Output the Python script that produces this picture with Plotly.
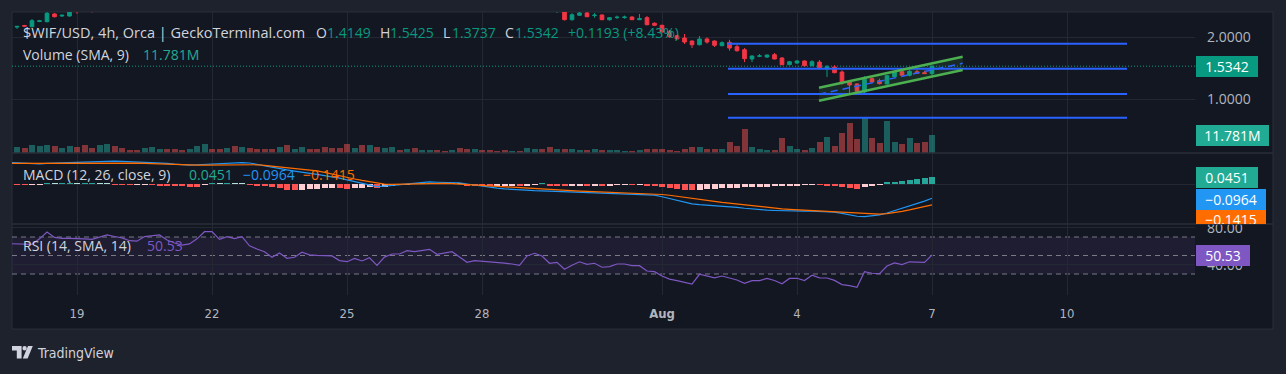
import plotly.graph_objects as go
import pandas as pd

# ---------------- data ----------------
candle_start = '2024-07-17 16:00'      # first 4h candle
indicator_start = '2024-07-17 12:00'   # indicators start one bar earlier

opens = [
    2.165, 2.19, 2.171, 2.255, 2.252, 2.376, 2.343, 2.343, 2.52, 2.47,
    2.46, 2.43, 2.55, 2.66, 2.60, 2.56, 2.53, 2.50, 2.56, 2.62,
    2.66, 2.63, 2.60, 2.58, 2.63, 2.72, 2.85, 2.80, 2.76, 2.80,
    2.72, 2.76, 2.70, 2.66, 2.63, 2.60, 2.66, 2.58, 2.62, 2.66,
    2.62, 2.60, 2.56, 2.53, 2.50, 2.45, 2.50, 2.47, 2.55, 2.51,
    2.56, 2.60, 2.57, 2.60, 2.57, 2.59, 2.62, 2.60, 2.58, 2.61,
    2.57, 2.54, 2.57, 2.55, 2.53, 2.51, 2.49, 2.51, 2.48, 2.52,
    2.54, 2.50, 2.47, 2.47, 2.284, 2.355, 2.392, 2.35, 2.36, 2.284,
    2.318, 2.318, 2.327, 2.284, 2.316, 2.226, 2.194, 2.097, 2.026, 1.989,
    1.94, 1.88, 1.973, 1.94, 1.865, 1.919, 1.848, 1.80, 1.65, 1.695,
    1.682, 1.72, 1.666, 1.558, 1.585, 1.618, 1.542, 1.60, 1.494, 1.521,
    1.44, 1.29, 1.247, 1.118, 1.332, 1.30, 1.247, 1.365, 1.445, 1.387,
    1.445, 1.429, 1.4149]
highs = [
    2.18, 2.20, 2.295, 2.28, 2.42, 2.39, 2.37, 2.48, 2.56, 2.50,
    2.49, 2.58, 2.70, 2.69, 2.63, 2.59, 2.56, 2.58, 2.64, 2.69,
    2.68, 2.65, 2.62, 2.66, 2.75, 2.90, 2.88, 2.83, 2.84, 2.82,
    2.79, 2.78, 2.72, 2.68, 2.65, 2.69, 2.68, 2.64, 2.69, 2.68,
    2.64, 2.62, 2.58, 2.55, 2.52, 2.52, 2.52, 2.57, 2.57, 2.58,
    2.63, 2.62, 2.62, 2.61, 2.61, 2.64, 2.63, 2.61, 2.63, 2.62,
    2.58, 2.59, 2.58, 2.56, 2.54, 2.52, 2.53, 2.52, 2.54, 2.56,
    2.55, 2.51, 2.51, 2.49, 2.39, 2.41, 2.42, 2.39, 2.37, 2.327,
    2.35, 2.35, 2.34, 2.376, 2.343, 2.24, 2.20, 2.118, 2.04, 2.053,
    1.95, 2.021, 2.0, 1.95, 1.935, 1.961, 1.88, 1.827, 1.71, 1.73,
    1.72, 1.747, 1.682, 1.618, 1.63, 1.625, 1.63, 1.634, 1.553, 1.55,
    1.468, 1.311, 1.26, 1.371, 1.381, 1.332, 1.39, 1.45, 1.46, 1.47,
    1.477, 1.46, 1.5425]
lows = [
    2.134, 2.17, 2.16, 2.245, 2.24, 2.32, 2.33, 2.335, 2.38, 2.43,
    2.40, 2.42, 2.53, 2.58, 2.54, 2.51, 2.48, 2.48, 2.54, 2.60,
    2.60, 2.57, 2.55, 2.56, 2.61, 2.70, 2.77, 2.73, 2.74, 2.70,
    2.70, 2.67, 2.63, 2.60, 2.57, 2.58, 2.55, 2.56, 2.60, 2.60,
    2.58, 2.54, 2.51, 2.48, 2.43, 2.44, 2.45, 2.46, 2.49, 2.50,
    2.55, 2.55, 2.56, 2.55, 2.56, 2.58, 2.58, 2.56, 2.57, 2.55,
    2.52, 2.53, 2.53, 2.51, 2.49, 2.47, 2.48, 2.46, 2.47, 2.51,
    2.49, 2.45, 2.395, 2.27, 2.27, 2.35, 2.325, 2.316, 2.278, 2.268,
    2.295, 2.30, 2.278, 2.28, 2.194, 2.18, 2.07, 1.99, 1.96, 1.892,
    1.827, 1.87, 1.897, 1.844, 1.855, 1.784, 1.768, 1.60, 1.60, 1.68,
    1.666, 1.645, 1.55, 1.55, 1.57, 1.53, 1.53, 1.484, 1.36, 1.42,
    1.235, 1.09, 1.11, 1.10, 1.27, 1.24, 1.24, 1.355, 1.38, 1.37,
    1.415, 1.41, 1.3737]
closes = [
    2.176, 2.18, 2.268, 2.266, 2.387, 2.332, 2.355, 2.45, 2.47, 2.44,
    2.43, 2.55, 2.66, 2.60, 2.56, 2.53, 2.50, 2.56, 2.62, 2.66,
    2.63, 2.60, 2.58, 2.63, 2.72, 2.85, 2.80, 2.76, 2.80, 2.72,
    2.76, 2.70, 2.66, 2.63, 2.60, 2.66, 2.58, 2.62, 2.66, 2.62,
    2.60, 2.56, 2.53, 2.50, 2.45, 2.50, 2.47, 2.55, 2.51, 2.56,
    2.60, 2.57, 2.60, 2.57, 2.59, 2.62, 2.60, 2.58, 2.61, 2.57,
    2.54, 2.57, 2.55, 2.53, 2.51, 2.49, 2.51, 2.48, 2.52, 2.54,
    2.50, 2.47, 2.49, 2.285, 2.364, 2.392, 2.332, 2.357, 2.284, 2.316,
    2.324, 2.326, 2.284, 2.30, 2.203, 2.194, 2.085, 2.01, 1.973, 1.924,
    1.88, 1.973, 1.924, 1.871, 1.913, 1.827, 1.784, 1.655, 1.698, 1.70,
    1.714, 1.65, 1.558, 1.606, 1.618, 1.542, 1.606, 1.505, 1.526, 1.429,
    1.263, 1.231, 1.129, 1.323, 1.279, 1.252, 1.381, 1.44, 1.387, 1.452,
    1.42, 1.4149, 1.5342]
volume_m = [
    3.9, 3.3, 5.2, 4.6, 5.2, 4.6, 3.3, 4.6, 3.9, 5.2,
    3.3, 5.2, 5.9, 4.6, 3.3, 2.0, 2.0, 3.3, 3.9, 2.6,
    2.6, 2.6, 2.0, 2.6, 4.6, 5.9, 2.6, 2.6, 3.3, 4.6,
    3.9, 3.3, 2.6, 2.6, 2.6, 3.9, 5.2, 2.6, 3.9, 2.6,
    2.6, 3.9, 3.3, 3.3, 5.9, 3.3, 5.2, 5.2, 3.9, 3.3,
    3.9, 2.0, 2.6, 3.3, 2.0, 2.0, 2.0, 1.3, 2.0, 3.3,
    2.6, 2.6, 2.0, 2.0, 1.3, 2.0, 1.3, 1.3, 3.3, 2.6,
    2.6, 3.9, 2.6, 2.6, 2.6, 2.0, 2.0, 2.6, 2.0, 2.0,
    2.0, 1.3, 1.3, 2.0, 2.6, 2.6, 2.6, 2.0, 1.3, 2.6,
    3.9, 3.9, 2.6, 2.6, 2.6, 7.2, 4.6, 15.7, 3.9, 2.6,
    2.0, 2.0, 9.8, 4.6, 2.6, 2.0, 3.3, 7.2, 10.5, 4.6,
    13.1, 19.6, 9.2, 22.9, 9.8, 6.5, 21.0, 7.2, 5.9, 9.8,
    6.5, 7.2, 11.781]
macd_hist = [
    -0.003, -0.004, -0.003, -0.002, 0.002, 0.001, 0.002, 0.003, 0.002, 0.004,
    0.005, 0.004, 0.003, -0.001, -0.003, -0.005, -0.004, -0.003, -0.005, -0.007,
    -0.008, -0.010, -0.012, -0.018, -0.020, -0.006, 0.003, 0.002, 0.004, 0.003,
    0.002, -0.004, -0.009, -0.016, -0.022, -0.030, -0.040, -0.042, -0.040, -0.037,
    -0.033, -0.030, -0.028, -0.030, -0.032, -0.028, -0.024, -0.022, -0.027, -0.020,
    -0.012, -0.006, -0.003, 0.001, 0.003, 0.004, 0.003, 0.004, 0.003, 0.001,
    -0.008, -0.012, -0.013, -0.014, -0.012, -0.011, -0.010, -0.012, -0.008, -0.003,
    0.002, -0.007, -0.008, -0.010, -0.009, -0.007, -0.008, -0.007, -0.009, -0.008,
    -0.006, -0.005, -0.006, -0.004, -0.009, -0.012, -0.020, -0.028, -0.035, -0.040,
    -0.043, -0.038, -0.035, -0.032, -0.028, -0.026, -0.025, -0.023, -0.021, -0.019,
    -0.017, -0.014, -0.012, -0.010, -0.008, -0.006, -0.004, -0.005, -0.007, -0.013,
    -0.020, -0.026, -0.031, -0.022, -0.013, -0.006, 0.008, 0.016, 0.022, 0.030,
    0.036, 0.041, 0.0451]
macd_line = [
    0.145, 0.142, 0.138, 0.135, 0.136, 0.139, 0.141, 0.143, 0.145, 0.148,
    0.151, 0.153, 0.155, 0.156, 0.155, 0.153, 0.151, 0.150, 0.149, 0.148,
    0.144, 0.139, 0.134, 0.130, 0.128, 0.130, 0.133, 0.135, 0.138, 0.140,
    0.142, 0.144, 0.142, 0.132, 0.121, 0.112, 0.104, 0.095, 0.087, 0.081,
    0.073, 0.065, 0.057, 0.050, 0.040, 0.028, 0.017, 0.006, -0.006, -0.018,
    -0.014, -0.010, -0.007, -0.002, 0.004, 0.010, 0.014, 0.012, 0.011, 0.010,
    0.008, 0.000, -0.008, -0.016, -0.022, -0.028, -0.033, -0.037, -0.041, -0.043,
    -0.045, -0.046, -0.048, -0.049, -0.051, -0.052, -0.054, -0.056, -0.059, -0.061,
    -0.062, -0.064, -0.066, -0.068, -0.070, -0.073, -0.075, -0.086, -0.098, -0.111,
    -0.124, -0.134, -0.140, -0.143, -0.147, -0.150, -0.153, -0.158, -0.164, -0.170,
    -0.174, -0.177, -0.179, -0.181, -0.182, -0.182, -0.183, -0.184, -0.185, -0.186,
    -0.190, -0.198, -0.208, -0.218, -0.220, -0.215, -0.209, -0.196, -0.180, -0.166,
    -0.150, -0.133, -0.116, -0.0964]
signal_line = [
    0.140, 0.140, 0.140, 0.141, 0.141, 0.142, 0.142, 0.143, 0.143, 0.144,
    0.144, 0.144, 0.144, 0.145, 0.145, 0.144, 0.143, 0.141, 0.139, 0.137,
    0.135, 0.133, 0.131, 0.130, 0.129, 0.128, 0.128, 0.129, 0.130, 0.131,
    0.132, 0.133, 0.133, 0.130, 0.126, 0.121, 0.116, 0.111, 0.107, 0.104,
    0.098, 0.089, 0.078, 0.066, 0.055, 0.044, 0.034, 0.024, 0.014, 0.005,
    -0.001, -0.002, -0.001, 0.001, 0.003, 0.004, 0.005, 0.005, 0.004, 0.002,
    -0.001, -0.004, -0.007, -0.010, -0.013, -0.017, -0.021, -0.025, -0.029, -0.032,
    -0.035, -0.038, -0.040, -0.042, -0.044, -0.046, -0.048, -0.050, -0.052, -0.054,
    -0.055, -0.057, -0.059, -0.061, -0.062, -0.064, -0.067, -0.071, -0.076, -0.082,
    -0.089, -0.096, -0.103, -0.110, -0.117, -0.124, -0.130, -0.136, -0.142, -0.148,
    -0.154, -0.159, -0.164, -0.168, -0.171, -0.174, -0.176, -0.178, -0.180, -0.182,
    -0.184, -0.187, -0.190, -0.194, -0.199, -0.202, -0.203, -0.200, -0.194, -0.185,
    -0.175, -0.164, -0.153, -0.1415]
rsi = [
    62.8, 62.6, 62.3, 62.1, 68.0, 75.4, 69.5, 68.6, 68.6, 68.6,
    68.0, 67.5, 69.5, 72.2, 70.5, 69.0, 66.0, 65.5, 70.5, 71.5,
    72.2, 66.8, 63.5, 61.2, 62.5, 68.0, 75.7, 75.7, 67.5, 70.3,
    68.2, 70.3, 60.5, 57.0, 54.0, 48.1, 52.8, 47.0, 48.1, 53.5,
    50.7, 50.1, 49.8, 49.5, 44.5, 43.3, 46.8, 44.1, 47.6, 39.4,
    48.3, 51.6, 51.6, 55.2, 54.1, 55.5, 56.7, 51.3, 52.7, 54.1,
    48.5, 42.6, 44.4, 43.9, 43.2, 42.6, 41.7, 40.8, 39.4, 49.5,
    52.4, 49.5, 41.6, 42.6, 35.1, 39.5, 43.2, 40.5, 41.6, 37.3,
    37.9, 40.8, 40.8, 39.0, 39.0, 33.2, 32.5, 27.8, 24.5, 22.8,
    20.8, 19.1, 29.7, 27.8, 25.9, 27.8, 25.6, 23.5, 19.9, 22.8,
    22.8, 25.3, 23.0, 19.4, 25.2, 25.4, 23.0, 28.7, 25.8, 25.7,
    23.1, 18.6, 17.5, 15.6, 32.5, 30.8, 30.3, 38.6, 42.0, 40.2,
    43.2, 43.0, 42.6, 50.53]

# drawings (price levels and parallel channel)
level_prices = [1.897, 1.4935, 1.0855, 0.703]
level_span = ['2024-08-02 11:12', '2024-08-11 08:00']
channel_t = ['2024-08-04 11:44', '2024-08-07 16:22']
channel_upper = [1.187, 1.687]
channel_lower = [0.977, 1.4726]
channel_mid = [1.082, 1.580]

# time axis
day_ticks = ['2024-07-19', '2024-07-22', '2024-07-25', '2024-07-28',
             '2024-08-01', '2024-08-04', '2024-08-07', '2024-08-10']
day_labels = ['19', '22', '25', '28', '<b>Aug</b>', '4', '7', '10']
x_range = ['2024-07-17 13:20', '2024-08-12 20:16']

# ---------------- layout helpers ----------------
W, H = 1286, 374
PL, PR, PT, PB = 12, 1195, 12, 295


def px(x):
    return (x - PL) / (PR - PL)


def py(y):
    return (PB - y) / (PB - PT)


OUTER = '#1e222d'
INNER = '#131722'
GRID = '#242833'
BORDER = '#2a2e39'
TXT = '#d1d4dc'
AX = '#b2b5be'
UP = '#089981'
DOWN = '#f23645'
UP2 = '#22ab94'
FONT = '"Open Sans", "Noto Sans", sans-serif'
NARROW = '"Liberation Sans Narrow", "DejaVu Sans Condensed", sans-serif'

times = pd.date_range(candle_start, periods=len(closes), freq='4h')
itimes = pd.date_range(indicator_start, periods=len(rsi), freq='4h')
bar_w = 4 * 3600 * 1000 * 0.8

vol_colors = ['rgba(38,166,154,0.5)' if c >= o else 'rgba(239,83,80,0.5)'
              for o, c in zip(opens, closes)]
hist_colors = []
prev = None
for v in macd_hist:
    if v >= 0:
        hist_colors.append('#26a69a' if (prev is None or v > prev) else '#b2dfdb')
    else:
        hist_colors.append('#ffcdd2' if (prev is not None and v > prev) else '#ff5252')
    prev = v

fig = go.Figure()

# channel fill
fig.add_trace(go.Scatter(
    x=[channel_t[0], channel_t[1], channel_t[1], channel_t[0], channel_t[0]],
    y=[channel_upper[0], channel_upper[1], channel_lower[1], channel_lower[0], channel_upper[0]],
    fill='toself', fillcolor='rgba(76,175,80,0.13)', mode='lines',
    line=dict(width=0), hoverinfo='skip', xaxis='x', yaxis='y'))

# candles
fig.add_trace(go.Candlestick(
    x=times, open=opens, high=highs, low=lows, close=closes,
    increasing=dict(line=dict(color=UP, width=1), fillcolor=UP),
    decreasing=dict(line=dict(color=DOWN, width=1), fillcolor=DOWN),
    whiskerwidth=0, hoverinfo='skip', xaxis='x', yaxis='y'))

# volume
fig.add_trace(go.Bar(x=times, y=volume_m, width=bar_w,
                     marker=dict(color=vol_colors, line=dict(width=0)),
                     hoverinfo='skip', xaxis='x', yaxis='y2'))

# MACD
fig.add_trace(go.Bar(x=times, y=macd_hist, width=bar_w,
                     marker=dict(color=hist_colors, line=dict(width=0)),
                     hoverinfo='skip', xaxis='x2', yaxis='y3'))
fig.add_trace(go.Scatter(x=itimes, y=macd_line, mode='lines',
                         line=dict(color='#2196f3', width=1.2),
                         hoverinfo='skip', xaxis='x2', yaxis='y3'))
fig.add_trace(go.Scatter(x=itimes, y=signal_line, mode='lines',
                         line=dict(color='#ff6d00', width=1.2),
                         hoverinfo='skip', xaxis='x2', yaxis='y3'))

# RSI
fig.add_trace(go.Scatter(x=itimes, y=rsi, mode='lines',
                         line=dict(color='#7e57c2', width=1.2),
                         hoverinfo='skip', xaxis='x3', yaxis='y4'))

# ---------------- axes ----------------
xcommon = dict(type='date', range=x_range, showgrid=True, gridcolor=GRID, gridwidth=1,
               tickvals=day_ticks, ticktext=day_labels, zeroline=False,
               showline=False, ticks='', fixedrange=True, automargin=False)
ycommon = dict(showgrid=True, gridcolor=GRID, zeroline=False, showline=False,
               ticks='', side='right', fixedrange=True, automargin=False,
               tickfont=dict(family=FONT, size=14, color=AX), ticklabelstandoff=11)

d_price = [py(153), 1.0]
d_macd = [py(224), py(153)]
d_rsi = [0.0, py(224)]

fig.update_layout(
    width=W, height=H,
    margin=dict(l=PL, r=W - PR, t=PT, b=H - PB, pad=0, autoexpand=False),
    paper_bgcolor=OUTER, plot_bgcolor='rgba(0,0,0,0)',
    showlegend=False, hovermode=False, bargap=0,
    xaxis=dict(xcommon, anchor='y', showticklabels=False,
               rangeslider=dict(visible=False)),
    xaxis2=dict(xcommon, anchor='y3', matches='x', showticklabels=False),
    xaxis3=dict(xcommon, anchor='y4', matches='x', showticklabels=True,
                tickfont=dict(family=NARROW, size=13, color=AX), ticklabelstandoff=9),
    yaxis=dict(ycommon, domain=d_price, anchor='x', range=[0.1339, 2.408],
               tickvals=[1, 2], ticktext=['1.0000', '2.0000']),
    yaxis2=dict(overlaying='y', anchor='x', range=[0, 92.28], visible=False,
                fixedrange=True),
    yaxis3=dict(ycommon, domain=d_macd, anchor='x2', range=[-0.2703, 0.2095],
                tickvals=[0], showticklabels=False),
    yaxis4=dict(ycommon, domain=d_rsi, anchor='x3', range=[7.30, 84.05],
                tickvals=[40, 80], ticktext=['40.00', '80.00']),
)

# ---------------- shapes ----------------
shapes = []
XR = px(1273)
# chart frame
shapes.append(dict(type='rect', xref='paper', yref='paper', x0=0, x1=XR,
                   y0=py(329), y1=1.0, fillcolor=INNER,
                   line=dict(color=BORDER, width=1), layer='below'))
# RSI band and levels
shapes.append(dict(type='rect', xref='paper', yref='y4', x0=0, x1=1, y0=30, y1=70,
                   fillcolor='rgba(126,87,194,0.1)', line=dict(width=0), layer='below'))
for lvl in (70, 50, 30):
    shapes.append(dict(type='line', xref='paper', yref='y4', x0=0, x1=1, y0=lvl, y1=lvl,
                       line=dict(color='#787b86', width=1, dash='5px,4px'), layer='below'))
# pane separators
for yy in (153, 224):
    shapes.append(dict(type='line', xref='paper', yref='paper', x0=0, x1=XR,
                       y0=py(yy), y1=py(yy), line=dict(color=BORDER, width=1.5),
                       layer='above'))
# last price dotted line
shapes.append(dict(type='line', xref='paper', yref='y', x0=0, x1=1,
                   y0=closes[-1], y1=closes[-1],
                   line=dict(color=UP, width=1, dash='1px,2px'), layer='below'))
# horizontal levels
for lv in level_prices:
    shapes.append(dict(type='line', xref='x', yref='y', x0=level_span[0], x1=level_span[1],
                       y0=lv, y1=lv, line=dict(color='#2962ff', width=2), layer='above'))
# channel
for arr in (channel_upper, channel_lower):
    shapes.append(dict(type='line', xref='x', yref='y', x0=channel_t[0], x1=channel_t[1],
                       y0=arr[0], y1=arr[1], line=dict(color='#4caf50', width=2.5),
                       layer='above'))
shapes.append(dict(type='line', xref='x', yref='y', x0=channel_t[0], x1=channel_t[1],
                   y0=channel_mid[0], y1=channel_mid[1],
                   line=dict(color='#2962ff', width=1.5, dash='7px,5px'), layer='above'))


# TradingView logo
def path(points):
    return 'M ' + ' L '.join(f'{px(a):.5f},{py(b):.5f}' for a, b in points) + ' Z'


shapes.append(dict(type='path', xref='paper', yref='paper',
                   path=path([(12, 346), (21.6, 346), (21.6, 358.5), (16.8, 358.5),
                              (16.8, 350.6), (12, 350.6)]),
                   fillcolor=TXT, line=dict(width=0), layer='above'))
shapes.append(dict(type='circle', xref='paper', yref='paper', x0=px(22.4), x1=px(26.8),
                   y0=py(350.5), y1=py(346.1), fillcolor=TXT, line=dict(width=0),
                   layer='above'))
shapes.append(dict(type='path', xref='paper', yref='paper',
                   path=path([(28.0, 346), (32.8, 346), (27.6, 358.5), (22.8, 358.5)]),
                   fillcolor=TXT, line=dict(width=0), layer='above'))
fig.update_layout(shapes=shapes)

# ---------------- annotations ----------------
ann = []


def txt(s, x, y, color, size=14, family=FONT):
    ann.append(dict(text=s, x=px(x), y=py(y), xref='paper', yref='paper',
                    xanchor='left', yanchor='middle', showarrow=False,
                    borderpad=0, borderwidth=0,
                    font=dict(family=family, size=size, color=color)))


def fmt(v, d=4):
    return f'{v:.{d}f}'.replace('-', '\u2212')


chg = closes[-1] - closes[-2]
pct = chg / closes[-2] * 100
txt('$WIF/USD, 4h, Orca | GeckoTerminal.com', 22.7, 32.5, TXT, size=14.5)
txt('O', 316, 32.5, TXT)
txt(fmt(opens[-1]), 326.7, 32.5, UP)
txt('H', 380, 32.5, TXT)
txt(fmt(highs[-1]), 390, 32.5, UP)
txt('L', 443, 32.5, TXT)
txt(fmt(lows[-1]), 451.7, 32.5, UP)
txt('C', 505, 32.5, TXT)
txt(fmt(closes[-1]), 515, 32.5, UP)
txt(f'+{chg:.4f} (+{pct:.2f}%)', 568, 32.5, UP)
txt('Volume (SMA, 9)', 22.7, 54, TXT)
txt(f'{volume_m[-1]:.3f}M', 142.7, 54, UP2)
txt('MACD (12, 26, close, 9)', 22.7, 174, TXT)
txt(fmt(macd_hist[-1]), 189.3, 174, UP2)
txt(fmt(macd_line[-1]), 243.3, 174, '#2196f3')
txt(fmt(signal_line[-1]), 303.3, 174, '#ff6d00')
txt('RSI (14, SMA, 14)', 22.7, 245, TXT)
txt(fmt(rsi[-1], 2), 146.7, 245, '#7e57c2')
txt('TradingView', 36.5, 352.5, TXT, size=14, family=NARROW)


def label(s, yref, y, w, color, h=21, yanchor='middle', valign='middle', yshift=0):
    ann.append(dict(text=s, x=px(1196), xref='paper', xanchor='left', y=y, yref=yref,
                    yanchor=yanchor, yshift=yshift, showarrow=False, width=w, height=h,
                    bgcolor=color, borderpad=0, borderwidth=0, align='center',
                    valign=valign, font=dict(family=FONT, size=14, color='#ffffff')))


label(fmt(closes[-1]), 'y', closes[-1], 62, UP)
label(f'{volume_m[-1]:.3f}M', 'y2', volume_m[-1], 73, UP2)
label(fmt(macd_hist[-1]), 'y3', macd_hist[-1], 62, UP2)
label(fmt(macd_line[-1]), 'y3', macd_line[-1], 70, '#2196f3', yshift=-1)
label(fmt(signal_line[-1]), 'paper', py(210), 70, '#ff6d00', h=14, yanchor='top',
      valign='top')
label(fmt(rsi[-1], 2), 'y4', rsi[-1], 54, '#7e57c2')
fig.update_layout(annotations=ann)

fig.write_html('out.html', config={'displayModeBar': False},
               post_script="document.body.style.margin='0';"
                           "document.body.style.background='#1e222d';")
